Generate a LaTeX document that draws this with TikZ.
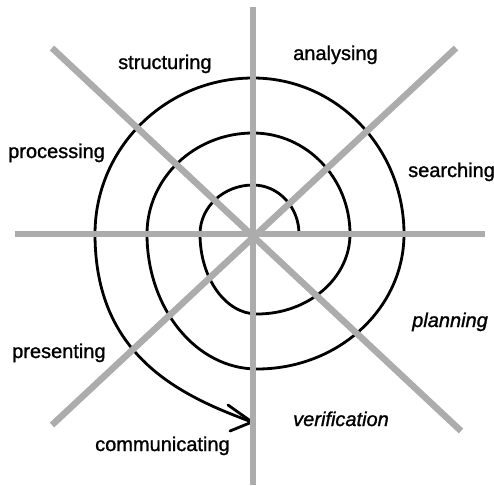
\documentclass[tikz,border=0pt]{standalone}
\usepackage{fontspec}
\setmainfont{Liberation Sans}[BoldFont=Liberation Sans,BoldFeatures={FakeBold=1.2},BoldItalicFont=Liberation Sans Italic,BoldItalicFeatures={FakeBold=1.2}]
\definecolor{axisgray}{RGB}{172,172,172}
\begin{document}
\begin{tikzpicture}[x=1pt,y=-1pt,
  axisline/.style={draw=axisgray,line width=6.5pt},
  spiralline/.style={draw=black,line width=2.8pt,line cap=round,line join=round},
  lbl/.style={inner sep=0pt,anchor=base west,font=\fontsize{20}{24}\selectfont\bfseries},
  ilbl/.style={lbl,font=\fontsize{20}{24}\selectfont\bfseries\itshape}]
\useasboundingbox (0,0) rectangle (494,485);
% coordinates
\coordinate (C) at (253,234);
\coordinate (vt) at (253,7);
\coordinate (vb) at (253,485);
\coordinate (hl) at (15,234);
\coordinate (hr) at (485,234);
\coordinate (d1a) at (52,48);
\coordinate (d1b) at (461,431);
\coordinate (d2a) at (456,48);
\coordinate (d2b) at (52,425);
\coordinate (A0) at (299,234);
\coordinate (T1) at (253,185);
\coordinate (L1) at (200,234);
\coordinate (B1) at (257,314);
\coordinate (R1) at (350,234);
\coordinate (T2) at (253,133);
\coordinate (L2) at (147,234);
\coordinate (B2) at (257,369);
\coordinate (R2) at (404,234);
\coordinate (T3) at (253,78);
\coordinate (L3) at (95,234);
\coordinate (tip) at (252,422);
\coordinate (armu) at (228,405);
\coordinate (arml) at (230,431);
% spiral
\draw[spiralline] (A0)
  .. controls (299,206.9) and (278.4,185) .. (T1)
  .. controls (223.7,185) and (200,206.9) .. (L1)
  .. controls (200,278.2) and (225.5,314) .. (B1)
  .. controls (308.4,314) and (350,278.2) .. (R1)
  .. controls (350,178.2) and (306.6,133) .. (T2)
  .. controls (194.5,133) and (147,178.2) .. (L2)
  .. controls (147,308.6) and (196.2,369) .. (B2)
  .. controls (338.2,369) and (404,308.6) .. (R2)
  .. controls (404,147.8) and (336.4,78) .. (T3)
  .. controls (165.7,78) and (95,147.8) .. (L3)
  .. controls (95,354) and (176.8,394.6) .. (tip);
\draw[spiralline] (armu) -- (tip) -- (arml);
% axes
\draw[axisline] (vt) -- (vb);
\draw[axisline] (hl) -- (hr);
\draw[axisline] (d1a) -- (d1b);
\draw[axisline] (d2a) -- (d2b);
% labels
\node[lbl] (structuring) at (118,69) {structuring};
\node[lbl] (analysing) at (293,60) {analysing};
\node[lbl] (processing) at (8,158) {processing};
\node[lbl] (searching) at (408,177) {searching};
\node[ilbl] (planning) at (412,327) {planning};
\node[lbl] (presenting) at (12,358) {presenting};
\node[ilbl] (verification) at (293,426) {verification};
\node[lbl] (communicating) at (95,451) {communicating};
\end{tikzpicture}
\end{document}
